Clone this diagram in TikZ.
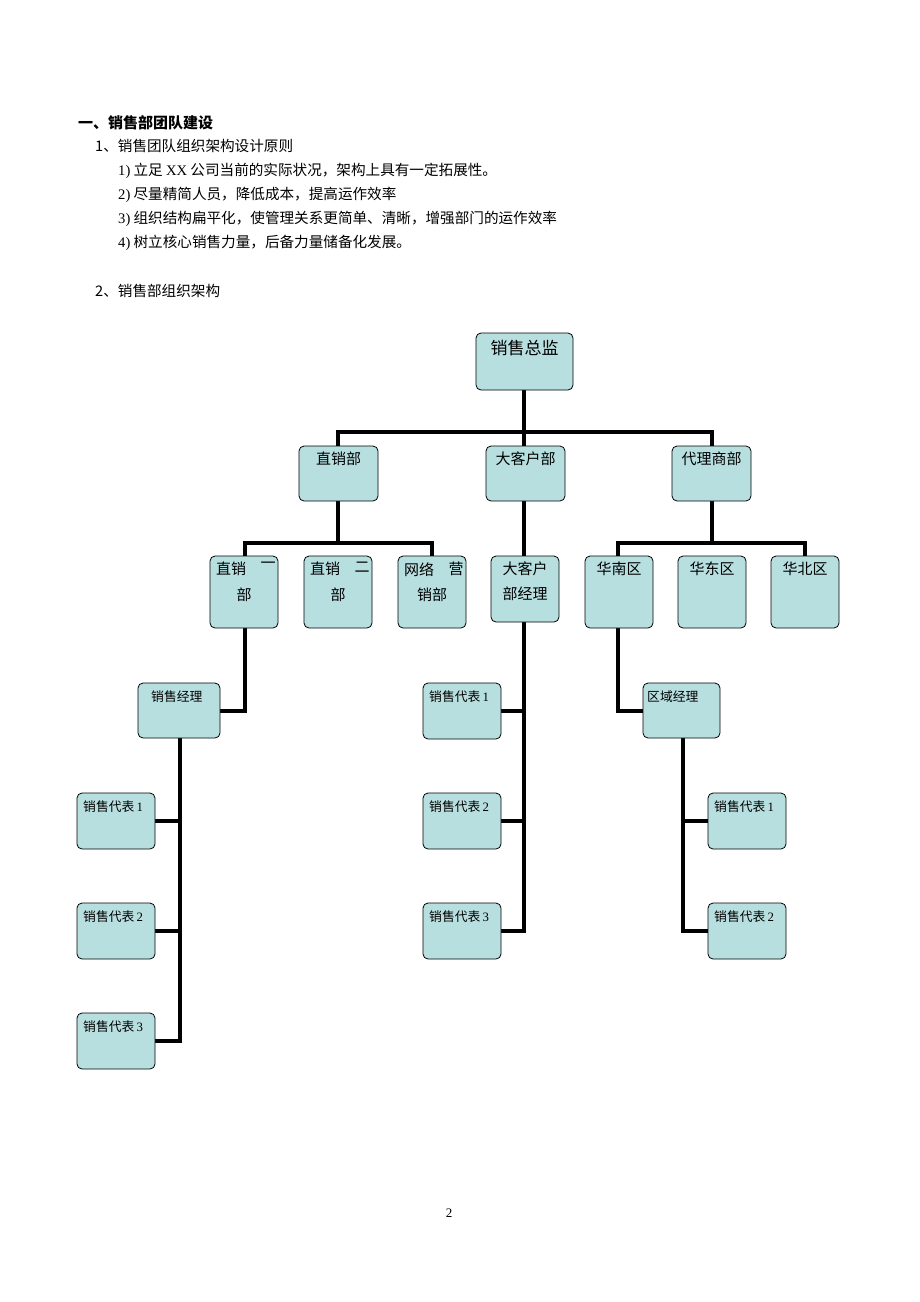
\documentclass[tikz,border=0pt]{standalone}
\usepackage{fontspec}
\setmainfont{Liberation Serif}
\newfontfamily\cjk{Noto Sans CJK SC}
\begin{document}
\begin{tikzpicture}[x=1pt,y=-1pt,
  box/.style={draw=black,line width=0.8pt,fill=boxc,rounded corners=5pt},
  ln/.style={line width=3.2pt,line cap=rect},
  t/.style={anchor=north west,inner sep=0pt,font=\cjk\fontsize{14.6}{16}\selectfont},
  bt/.style={anchor=north,inner sep=0pt,font=\cjk\fontsize{15}{25}\selectfont,align=center},
  st/.style={anchor=north west,inner sep=0pt,font=\cjk\fontsize{12.8}{15}\selectfont}]
\definecolor{boxc}{HTML}{B8DFE0}
\useasboundingbox (0,0) rectangle (920,1302);
% header text
\node[t,font=\cjk\bfseries\fontsize{15}{16}\selectfont] (h1) at (78,115) {一、销售部团队建设};
\node[t] (h2) at (95,139) {1、销售团队组织架构设计原则};
\node[t] (h3) at (118,163) {{\rmfamily 1)}\ 立足 {\rmfamily XX} 公司当前的实际状况，架构上具有一定拓展性。};
\node[t] (h4) at (118,187) {{\rmfamily 2)}\ 尽量精简人员，降低成本，提高运作效率};
\node[t] (h5) at (118,211) {{\rmfamily 3)}\ 组织结构扁平化，使管理关系更简单、清晰，增强部门的运作效率};
\node[t] (h6) at (118,235) {{\rmfamily 4)}\ 树立核心销售力量，后备力量储备化发展。};
\node[t] (h7) at (95,284) {2、销售部组织架构};
\node[anchor=north,inner sep=0pt,font=\fontsize{13}{15}\selectfont] (pg) at (449,1209) {2};
% connectors
\draw[ln] (524,390) -- (524,432) (338,432) -- (712,432) (338,432) -- (338,446) (524,432) -- (524,446) (712,432) -- (712,446);
\draw[ln] (338,501) -- (338,543) (245,543) -- (432,543) (245,543) -- (245,556) (432,543) -- (432,556);
\draw[ln] (712,501) -- (712,543) (618,543) -- (805,543) (618,543) -- (618,556) (805,543) -- (805,556);
\draw[ln] (524,501) -- (524,931) (500,711) -- (524,711) (500,821) -- (524,821) (500,931) -- (524,931);
\draw[ln] (245,628) -- (245,711) -- (220,711);
\draw[ln] (180,738) -- (180,1041) (155,821) -- (180,821) (155,931) -- (180,931) (155,1041) -- (180,1041);
\draw[ln] (618,628) -- (618,711) -- (643,711);
\draw[ln] (683,738) -- (683,931) (683,821) -- (708,821) (683,931) -- (708,931);
% boxes
\path[box] (476,333) rectangle (573,390);
\node[anchor=north,inner sep=0pt,font=\cjk\fontsize{17}{18}\selectfont] (zj) at (524.5,340) {销售总监};
\foreach \x/\s/\n in {299/直销部/a,486/大客户部/b,672/代理商部/c}{
  \path[box] (\x,446) rectangle ++(79,55);
  \node[bt] (\n) at ({\x+39.5},452) {\s};}
\foreach \x/\n in {210/r1,304/r2,398/r3,585/r5,678/r6,771/r7}{
  \path[box] (\x,556) rectangle ++(68,72);}
\path[box] (491,556) rectangle ++(68,66);
\node[bt] (r1a) at (231,562) {直销}; \node[bt] (r1b) at (268,562) {一}; \node[bt] (r1c) at (244,588) {部};
\node[bt] (r2a) at (325,562) {直销}; \node[bt] (r2b) at (362,562) {二}; \node[bt] (r2c) at (338,588) {部};
\node[bt] (r3a) at (419,562) {网络}; \node[bt] (r3b) at (456,562) {营}; \node[bt] (r3c) at (432,588) {销部};
\node[bt] (r4) at (525,562) {大客户\\部经理};
\node[bt] (r5) at (619,562) {华南区};
\node[bt] (r6) at (712,562) {华东区};
\node[bt] (r7) at (805,562) {华北区};
% lower boxes
\path[box] (138,683) rectangle (220,738); \node[st] (sm) at (151,691) {销售经理};
\path[box] (643,683) rectangle (720,738); \node[st] (qm) at (647,691) {区域经理};
\foreach \x/\y/\k/\n in {77/793/1/la,77/903/2/lb,77/1013/3/lc,423/683/1/ma,423/793/2/mb,423/903/3/mc,708/793/1/ra,708/903/2/rb}{
  \path[box] (\x,\y) rectangle ++(78,56);
  \node[st] (\n) at ({\x+6},{\y+8}) {销售代表\,{\rmfamily\k}};}
\end{tikzpicture}
\end{document}
